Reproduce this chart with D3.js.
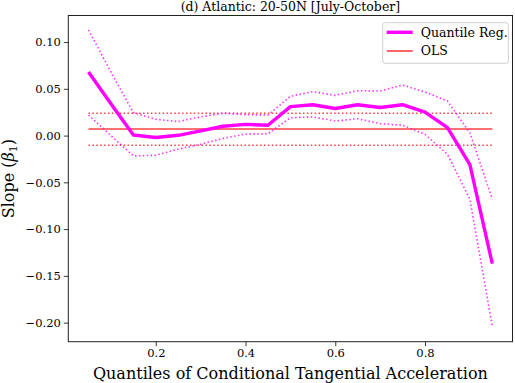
<!DOCTYPE html>
<html>
<head>
<meta charset="utf-8">
<script src="https://cdn.jsdelivr.net/npm/d3@7"></script>
<style>
  body { margin: 0; background: white; }
  svg text { font-family: "DejaVu Serif", serif; fill: #000; }
</style>
</head>
<body>
<div id="chart"></div>
<script>
// Data
var quantiles = [0.05, 0.10, 0.15, 0.20, 0.25, 0.30, 0.35, 0.40, 0.45, 0.50,
                 0.55, 0.60, 0.65, 0.70, 0.75, 0.80, 0.85, 0.90, 0.95];
var qrSlope = [0.068, 0.034, 0.0006, -0.002, 0.0003, 0.005, 0.010, 0.012, 0.011, 0.031,
               0.033, 0.029, 0.033, 0.030, 0.033, 0.025, 0.0085, -0.031, -0.137];
var qrUpper = [0.113, 0.068, 0.0246, 0.0174, 0.015, 0.020, 0.024, 0.0224, 0.022, 0.042,
               0.047, 0.043, 0.048, 0.0477, 0.054, 0.0466, 0.037, 0.003, -0.068];
var qrLower = [0.022, 0.000, -0.0218, -0.021, -0.0146, -0.0093, -0.003, 0.0017, 0.002, 0.019,
               0.020, 0.0156, 0.018, 0.0128, 0.011, 0.0014, -0.020, -0.068, -0.204];
var olsSlope = 0.007;
var olsUpper = 0.0238;
var olsLower = -0.0104;
var xTicks = [0.2, 0.4, 0.6, 0.8];
var yTicks = [0.10, 0.05, 0.00, -0.05, -0.10, -0.15, -0.20];

// Set the dimensions and margins of the graph
var margin = { top: 15.5, right: 2.5, bottom: 41.3, left: 68.3 },
    width = 515 - margin.left - margin.right,
    height = 383 - margin.top - margin.bottom;

var svg = d3.select("#chart")
    .append("svg")
    .attr("width", 515)
    .attr("height", 383)
    .append("g")
    .attr("transform", "translate(" + margin.left + "," + margin.top + ")");

// Scales (matplotlib style 5% padding)
var x = d3.scaleLinear().domain([0.005, 0.995]).range([0, width]);
var y = d3.scaleLinear().domain([-0.2204, 0.1284]).range([height, 0]);

function fmt(d) {
    var s = d3.format(".2f")(Math.abs(d));
    return (d < -1e-9 ? "\u2212" : "") + s;
}

// Axes
var xAxis = svg.append("g")
    .attr("font-family", "DejaVu Serif")
    .attr("transform", "translate(0," + height + ")")
    .call(d3.axisBottom(x).tickValues(xTicks).tickSize(4.5).tickPadding(3).tickFormat(d3.format(".1f")));
xAxis.select(".domain").remove();
xAxis.selectAll("text").style("font-size", "11.5px").style("font-family", "'DejaVu Serif', serif");
xAxis.selectAll("line").attr("stroke", "#222").attr("stroke-width", 0.9);

var yAxis = svg.append("g")
    .call(d3.axisLeft(y).tickValues(yTicks).tickSize(4.5).tickPadding(3).tickFormat(fmt));
yAxis.select(".domain").remove();
yAxis.selectAll("text").style("font-size", "11.5px").style("font-family", "'DejaVu Serif', serif");
yAxis.selectAll("line").attr("stroke", "#222").attr("stroke-width", 0.9);

// OLS lines
var ols = [
    { v: olsSlope, dash: null },
    { v: olsUpper, dash: "1.5,2.4" },
    { v: olsLower, dash: "1.5,2.4" }
];
svg.selectAll(".ols")
    .data(ols)
    .enter()
    .append("line")
    .attr("x1", x(quantiles[0]))
    .attr("x2", x(quantiles[quantiles.length - 1]))
    .attr("y1", function (d) { return y(d.v); })
    .attr("y2", function (d) { return y(d.v); })
    .attr("stroke", "red")
    .attr("stroke-opacity", 0.75)
    .attr("stroke-width", 1.6)
    .attr("stroke-dasharray", function (d) { return d.dash; });

// Quantile regression lines
var line = d3.line()
    .x(function (d, i) { return x(quantiles[i]); })
    .y(function (d) { return y(d); });

[qrUpper, qrLower].forEach(function (s) {
    svg.append("path")
        .datum(s)
        .attr("d", line)
        .attr("fill", "none")
        .attr("stroke", "#ff00ff")
        .attr("stroke-opacity", 0.8)
        .attr("stroke-width", 1.6)
        .attr("stroke-dasharray", "1.5,2.4");
});

svg.append("path")
    .datum(qrSlope)
    .attr("d", line)
    .attr("fill", "none")
    .attr("stroke", "#ff00ff")
    .attr("stroke-width", 3.4)
    .attr("stroke-linejoin", "round");

// Frame
svg.append("rect")
    .attr("width", width)
    .attr("height", height)
    .attr("fill", "none")
    .attr("stroke", "#222")
    .attr("stroke-width", 1);

// Title
svg.append("text")
    .attr("x", width / 2)
    .attr("y", -5)
    .style("text-anchor", "middle")
    .style("font-size", "12.5px")
    .text("(d) Atlantic: 20-50N [July-October]");

// X label
svg.append("text")
    .attr("x", width / 2)
    .attr("y", height + 37)
    .style("text-anchor", "middle")
    .style("font-size", "16px")
    .text("Quantiles of Conditional Tangential Acceleration");

// Y label
var yl = svg.append("text")
    .attr("transform", "translate(" + (-54) + "," + (height / 2) + ") rotate(-90)")
    .style("text-anchor", "middle")
    .style("font-size", "16px");
yl.append("tspan").text("Slope (");
yl.append("tspan").style("font-style", "italic").text("\u03b2");
yl.append("tspan").attr("dy", 3).style("font-size", "11px").text("1");
yl.append("tspan").attr("dy", -3).text(")");

// Legend
var lg = svg.append("g")
    .attr("transform", "translate(" + (382.7 - margin.left) + "," + (22.7 - margin.top) + ")");
lg.append("rect")
    .attr("width", 125.6)
    .attr("height", 40.6)
    .attr("rx", 2.5)
    .attr("fill", "white")
    .attr("fill-opacity", 0.8)
    .attr("stroke", "#d0d0d0")
    .attr("stroke-width", 1);
var items = [
    { label: "Quantile Reg.", color: "#ff00ff", w: 3.4, op: 1 },
    { label: "OLS", color: "red", w: 1.6, op: 0.75 }
];
items.forEach(function (d, i) {
    var cy = 9.6 + i * 18.7;
    lg.append("line")
        .attr("x1", 4).attr("x2", 30)
        .attr("y1", cy).attr("y2", cy)
        .attr("stroke", d.color)
        .attr("stroke-opacity", d.op)
        .attr("stroke-width", d.w);
    lg.append("text")
        .attr("x", 38)
        .attr("y", cy + 4.5)
        .style("font-size", "12.5px")
        .text(d.label);
});
</script>
</body>
</html>
